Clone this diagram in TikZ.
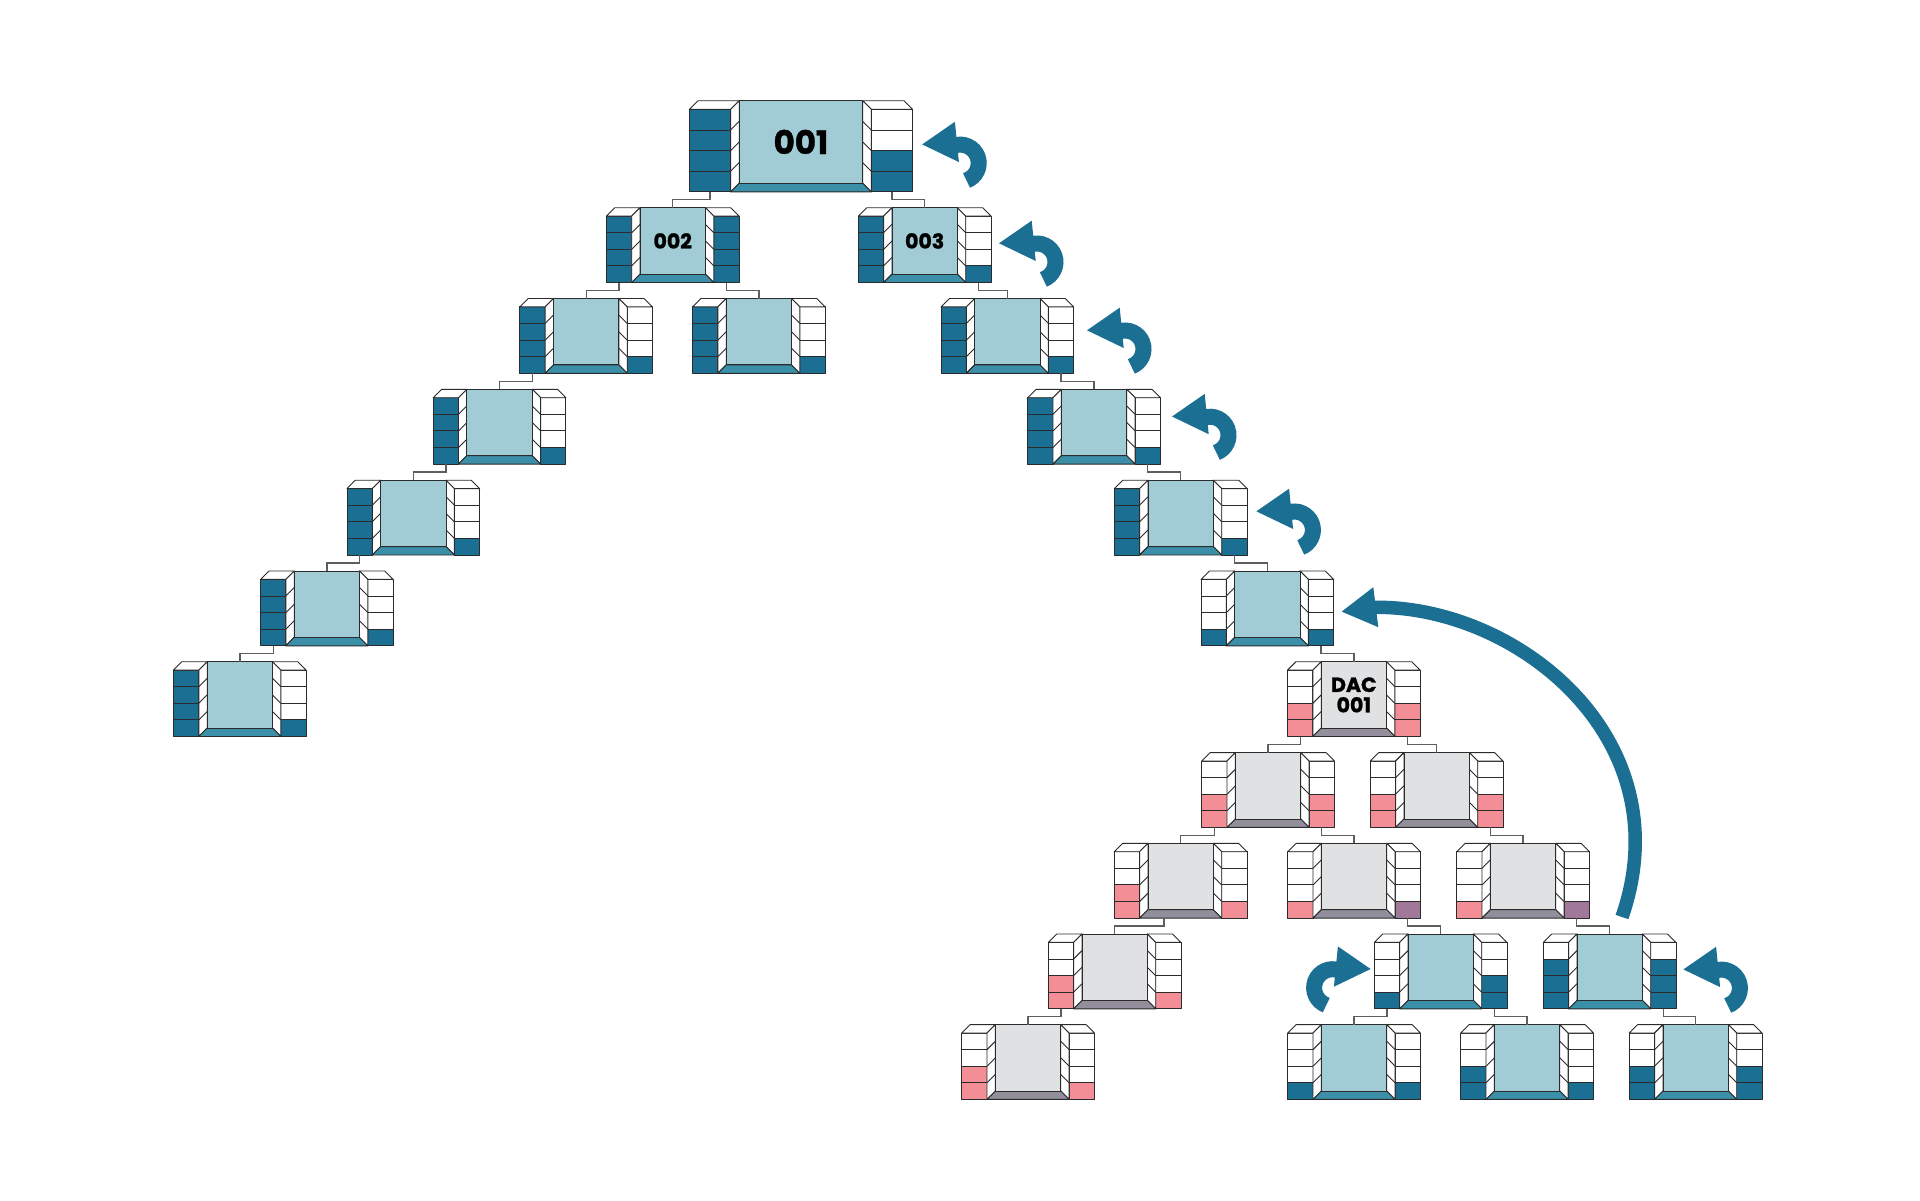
\documentclass[tikz,border=0pt]{standalone}
\usepackage{fontspec}
\setmainfont{Poppins}[BoldFeatures={FakeBold=1.2}]
\usepackage{tikz}

\definecolor{dblue}{HTML}{1B6F93}
\definecolor{coreblue}{HTML}{A2CCD5}
\definecolor{floorblue}{HTML}{3C8FA9}
\definecolor{coregrey}{HTML}{E0E1E3}
\definecolor{floorgrey}{HTML}{928E9B}
\definecolor{rose}{HTML}{F38D96}
\definecolor{mauve}{HTML}{A07899}
\definecolor{edge}{HTML}{2B2B2B}
\definecolor{wiregrey}{HTML}{5E5E5E}
\definecolor{arrowblue}{HTML}{1B6F93}

\tikzstyle{cell} = [draw=edge, line width=0.9pt, line join=round]
\tikzstyle{core} = [cell, rectangle, inner sep=0pt, outer sep=0pt, anchor=north west,
    align=center, font=\bfseries\fontsize{20.5}{20.5}\selectfont]
\tikzstyle{wire} = [draw=wiregrey, line width=1.3pt]

\tikzset{
  backturn/.pic={
    \fill[arrowblue] (-38,-18.7) -- (-5.3,-41.3) -- (-1.3,-1) -- cycle;
    \draw[arrowblue, line width=16pt] (250:18.5) arc[start angle=250, end angle=430, radius=18.5];
  }
}

\newcommand{\sizesmall}{\def\cw{25.3}\def\dd{8.4}\def\mw{65.3}\def\ch{16.6}}
\newcommand{\sizebig}{\def\cw{41.3}\def\dd{8.7}\def\mw{123.3}\def\ch{20.6}}

% #1 name, #2 top left, #3 small/big, #4 blue/grey, #5 left cells, #6 right cells, #7 label
\newcommand{\rack}[7]{%
  \begin{scope}[shift={(#2)}]
    \csname size#3\endcsname
    \pgfmathsetmacro{\xr}{\cw+2*\dd+\mw}
    \pgfmathsetmacro{\hh}{4*\ch}
    % drawers
    \foreach \cl [count=\i from 0] in {#5}
      \draw[cell, fill=\cl] (0,{\dd+\i*\ch}) rectangle ++(\cw,\ch);
    \foreach \cl [count=\i from 0] in {#6}
      \draw[cell, fill=\cl] (\xr,{\dd+\i*\ch}) rectangle ++(\cw,\ch);
    % lids
    \draw[cell, fill=white] (0,\dd) -- (\dd,0) -- ({\cw+\dd},0) -- (\cw,\dd) -- cycle;
    \draw[cell, fill=white] ({\xr-\dd},0) -- ({\xr+\cw-\dd},0) -- ({\xr+\cw},\dd) -- (\xr,\dd) -- cycle;
    % side walls
    \draw[cell, fill=white] (\cw,\dd) -- ({\cw+\dd},0) -- ({\cw+\dd},\hh) -- (\cw,{\dd+\hh}) -- cycle;
    \draw[cell, fill=white] (\xr,\dd) -- ({\xr-\dd},0) -- ({\xr-\dd},\hh) -- (\xr,{\dd+\hh}) -- cycle;
    \foreach \i in {1,2,3} {
      \draw[cell] (\cw,{\dd+\i*\ch}) -- ({\cw+\dd},{\i*\ch});
      \draw[cell] (\xr,{\dd+\i*\ch}) -- ({\xr-\dd},{\i*\ch});
    }
    % floor
    \draw[cell, fill=floor#4] (\cw,{\dd+\hh}) -- ({\cw+\dd},\hh) -- ({\xr-\dd},\hh) -- (\xr,{\dd+\hh}) -- cycle;
    % back wall
    \node[core, fill=core#4, minimum width=\mw pt, minimum height=\hh pt] (#1) at ({\cw+\dd},0) {#7};
    \coordinate (#1-l) at ({\cw/2},{\dd+\hh});
    \coordinate (#1-r) at ({\xr+\cw/2},{\dd+\hh});
    \coordinate (#1-e) at ({\xr+\cw},{\dd+\hh/2});
  \end{scope}}

\begin{document}
\begin{tikzpicture}[x=1pt, y=-1pt]
    \fill[white] (0,0) rectangle (1920,1200);
    \useasboundingbox (0,0) rectangle (1920,1200);
    % Place nodes
    \rack{root}{689.3,100.7}{big}{blue}{dblue,dblue,dblue,dblue}{white,white,dblue,dblue}{\fontsize{32.5}{32.5}\selectfont 001}
    \rack{left}{606.4,207.7}{small}{blue}{dblue,dblue,dblue,dblue}{dblue,dblue,dblue,dblue}{002}
    \rack{right}{858.3,207.7}{small}{blue}{dblue,dblue,dblue,dblue}{white,white,white,dblue}{003}
    \rack{leftA}{519.8,298.5}{small}{blue}{dblue,dblue,dblue,dblue}{white,white,white,dblue}{}
    \rack{leftB}{692.5,298.5}{small}{blue}{dblue,dblue,dblue,dblue}{white,white,white,dblue}{}
    \rack{right1}{941,298.5}{small}{blue}{dblue,dblue,dblue,dblue}{white,white,white,dblue}{}
    \rack{leftA1}{433.2,389.3}{small}{blue}{dblue,dblue,dblue,dblue}{white,white,white,dblue}{}
    \rack{right2}{1027.7,389.3}{small}{blue}{dblue,dblue,dblue,dblue}{white,white,white,dblue}{}
    \rack{leftA2}{347,480.2}{small}{blue}{dblue,dblue,dblue,dblue}{white,white,white,dblue}{}
    \rack{right3}{1114.3,480.2}{small}{blue}{dblue,dblue,dblue,dblue}{white,white,white,dblue}{}
    \rack{leftA3}{260.5,571}{small}{blue}{dblue,dblue,dblue,dblue}{white,white,white,dblue}{}
    \rack{right4}{1201,571}{small}{blue}{white,white,white,dblue}{white,white,white,dblue}{}
    \rack{leftA4}{173.5,661.7}{small}{blue}{dblue,dblue,dblue,dblue}{white,white,white,dblue}{}
    \rack{dac}{1287.5,661.7}{small}{grey}{white,white,rose,rose}{white,white,rose,rose}{DAC\\001}
    \rack{dac1}{1201.7,752.6}{small}{grey}{white,white,rose,rose}{white,white,rose,rose}{}
    \rack{dac2}{1370.3,752.6}{small}{grey}{white,white,rose,rose}{white,white,rose,rose}{}
    \rack{dac3}{1114.3,843.3}{small}{grey}{white,white,rose,rose}{white,white,white,rose}{}
    \rack{dac4}{1287.7,843.3}{small}{grey}{white,white,white,rose}{white,white,white,mauve}{}
    \rack{dac5}{1456.7,843.3}{small}{grey}{white,white,white,rose}{white,white,white,mauve}{}
    \rack{dac6}{1048.3,934}{small}{grey}{white,white,rose,rose}{white,white,white,rose}{}
    \rack{dac7}{961.7,1024.6}{small}{grey}{white,white,rose,rose}{white,white,white,rose}{}
    \rack{blue1}{1374.3,934}{small}{blue}{white,white,white,dblue}{white,white,dblue,dblue}{}
    \rack{blue2}{1543.3,934}{small}{blue}{white,dblue,dblue,dblue}{white,dblue,dblue,dblue}{}
    \rack{blue3}{1287.7,1024.6}{small}{blue}{white,white,white,dblue}{white,white,white,dblue}{}
    \rack{blue4}{1460.7,1024.6}{small}{blue}{white,white,dblue,dblue}{white,white,white,dblue}{}
    \rack{blue5}{1629.3,1024.6}{small}{blue}{white,white,dblue,dblue}{white,white,dblue,dblue}{}
    % Draw edges
    \draw[wire] (root-l) -- ++(0,8) -| (left.north);
    \draw[wire] (root-r) -- ++(0,8) -| (right.north);
    \draw[wire] (left-l) -- ++(0,8) -| (leftA.north);
    \draw[wire] (left-r) -- ++(0,8) -| (leftB.north);
    \draw[wire] (leftA-l) -- ++(0,8) -| (leftA1.north);
    \draw[wire] (leftA1-l) -- ++(0,8) -| (leftA2.north);
    \draw[wire] (leftA2-l) -- ++(0,8) -| (leftA3.north);
    \draw[wire] (leftA3-l) -- ++(0,8) -| (leftA4.north);
    \draw[wire] (right-r) -- ++(0,8) -| (right1.north);
    \draw[wire] (right1-r) -- ++(0,8) -| (right2.north);
    \draw[wire] (right2-r) -- ++(0,8) -| (right3.north);
    \draw[wire] (right3-r) -- ++(0,8) -| (right4.north);
    \draw[wire] (right4-r) -- ++(0,8) -| (dac.north);
    \draw[wire] (dac-l) -- ++(0,8) -| (dac1.north);
    \draw[wire] (dac-r) -- ++(0,8) -| (dac2.north);
    \draw[wire] (dac1-l) -- ++(0,8) -| (dac3.north);
    \draw[wire] (dac1-r) -- ++(0,8) -| (dac4.north);
    \draw[wire] (dac2-r) -- ++(0,8) -| (dac5.north);
    \draw[wire] ([xshift=37]dac3-l) -- ++(0,8) -| (dac6.north);
    \draw[wire] (dac6-l) -- ++(0,8) -| (dac7.north);
    \draw[wire] (dac4-r) -- ++(0,8) -| (blue1.north);
    \draw[wire] (dac5-r) -- ++(0,8) -| (blue2.north);
    \draw[wire] (blue1-l) -- ++(0,8) -| (blue3.north);
    \draw[wire] (blue1-r) -- ++(0,8) -| (blue4.north);
    \draw[wire] (blue2-r) -- ++(0,8) -| (blue5.north);
    % Turn arrows
    \pic at (960.2,163.1) {backturn};
    \pic at (1037,262) {backturn};
    \pic at (1125,349) {backturn};
    \pic at (1210,435.2) {backturn};
    \pic at (1294.4,530) {backturn};
    \pic[xscale=-1] at (1332.6,987.7) {backturn};
    \pic at (1721.4,988.1) {backturn};
    % Long arrow back up the tree
    \coordinate (looptail) at (1622,917);
    \fill[arrowblue] ([shift={(8,-1)}]right4-e) coordinate (looptip) -- ++(31.6,-24.4) -- ++(5,40) -- cycle;
    \draw[arrowblue, line width=13.5pt] (looptail) .. controls (1685,735) and (1510,600) .. ([shift={(24,-4)}]looptip);
\end{tikzpicture}
\end{document}
